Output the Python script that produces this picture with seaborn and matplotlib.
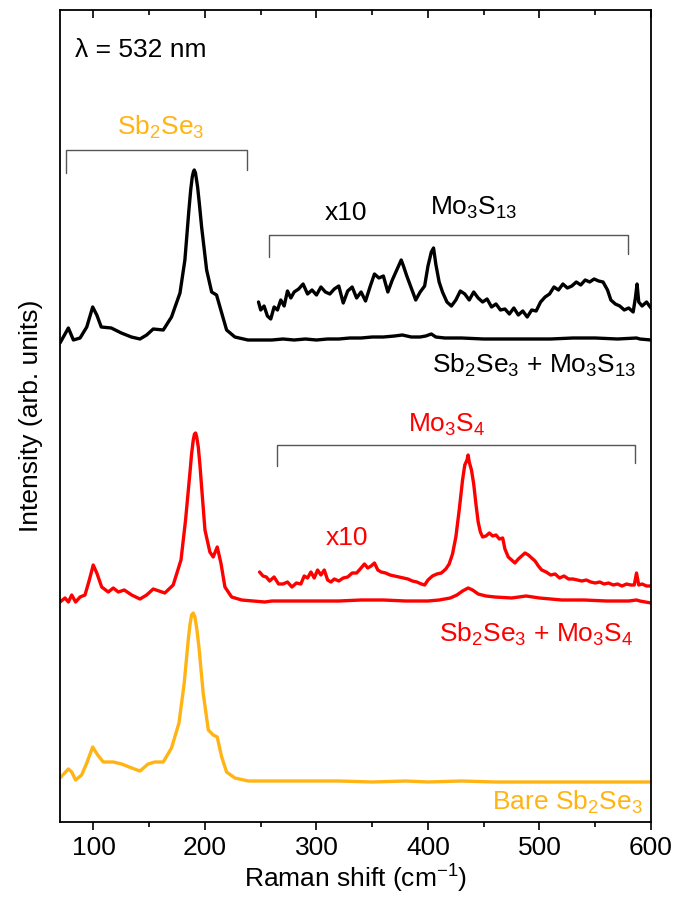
import numpy as np
import pandas as pd
import matplotlib
matplotlib.use("Agg")
import matplotlib.pyplot as plt
import seaborn as sns
from matplotlib.ticker import MultipleLocator

# ---------------- data ----------------
# Raman shift (cm^-1) and intensity (arb. units, offset already applied)
bare_x = [70, 77.5, 80.5, 84, 89.4, 94, 99.3, 103.8, 108.8, 117.8, 125.3, 134.3, 141.7, 149, 155,
          162.6, 170, 176.7, 181.4, 185, 186.5, 188, 189.5, 191, 192.7, 194.6, 198.4, 203, 207.4,
          211, 215, 219.4, 226.8, 238.8, 253.7, 260, 280, 300, 320, 350, 380, 400, 430, 460, 500,
          530, 560, 590, 600]
bare_y = [44, 53, 50, 42, 47, 59, 75, 67, 60, 60, 58, 54, 51, 58, 60,
          60, 74, 99, 139, 182, 197, 207, 209, 205, 193, 175, 129, 92, 87,
          85, 65, 50, 44, 41, 41, 41, 41, 41, 41, 40, 41, 40, 41, 40, 40,
          40, 40, 40, 40]

mo3s4_x = [70, 74.5, 77.5, 80.5, 84, 88, 92.4, 96.3, 99.8, 103, 107.4, 113.3, 117.8, 122.3, 127.6,
           134.3, 141.7, 147.7, 153.6, 164, 171.5, 178.5, 182.6, 186.5, 188, 189.5, 190.6, 191.6,
           192.6, 194, 195.5, 197, 200, 204.4, 207.4, 211, 214.3, 217.9, 223.9, 232.9, 253.7, 260,
           280, 300, 320, 340, 360, 380, 400, 410, 420, 426, 431, 436, 440, 445, 452, 460, 475,
           488, 500, 520, 540, 560, 580, 587, 590, 600]
mo3s4_y = [220, 224, 220, 227, 220, 225, 227, 242, 257, 249, 235, 230, 234, 230, 232,
           227, 223, 227, 233, 229, 237, 262, 302, 349, 368, 382, 388, 389,
           385, 375, 357, 335, 292, 270, 265, 275, 259, 235, 225, 222, 220, 221,
           221, 221, 221, 222, 222, 221, 221, 222, 224, 227, 231, 234, 232, 228, 226, 225, 224,
           226, 224, 222, 222, 221, 221, 222, 221, 219]

mo3s4_x10_x = [249, 252, 255, 258, 262, 266, 270, 274, 278, 282, 286, 289, 292, 295, 298, 301,
               304, 307, 310, 313, 316, 320, 324, 328, 332, 336, 340, 343, 346, 349, 352, 355,
               358, 362, 366, 370, 374, 378, 382, 386, 390, 394, 397, 400, 404, 408, 412, 416,
               419, 422, 425, 428, 431, 433, 435, 436, 437, 439, 441, 443, 445, 447, 449, 452,
               455, 458, 461, 464, 467, 469, 472, 475, 478, 481, 484, 487, 490, 493, 496, 499,
               502, 506, 510, 514, 518, 522, 526, 530, 534, 538, 542, 546, 550, 554, 558, 562,
               566, 570, 574, 578, 582, 585, 587, 589, 592, 596, 600]
mo3s4_x10_y = [250, 246, 245, 241, 245, 238, 238, 240, 235, 239, 238, 246, 244, 250, 244, 252,
               247, 252, 242, 240, 243, 241, 244, 245, 249, 249, 254, 258, 254, 256, 259, 252,
               250, 249, 247, 246, 245, 244, 243, 241, 240, 238, 237, 242, 246, 248, 249, 253,
               258, 268, 285, 312, 342, 357, 362, 367, 360, 352, 338, 318, 300, 290, 285, 286,
               289, 286, 287, 283, 284, 273, 265, 262, 259, 263, 266, 269, 267, 264, 261, 256,
               252, 250, 247, 248, 244, 246, 243, 243, 242, 241, 242, 240, 239, 240, 238, 239,
               237, 238, 236, 238, 237, 237, 249, 237, 238, 236, 236]

mo3s13_x = [70, 77.5, 82, 88, 94, 99.3, 103, 107, 116, 125, 134, 141.7, 147.7, 153.6, 162.6, 170,
            177.6, 182, 185.6, 187.2, 188.6, 189.6, 190.4, 191.5, 193.4, 195, 197, 201.5, 206,
            210.4, 215, 219.4, 226.8, 238.5, 253.7, 260, 270, 280, 290, 300, 310, 320, 330, 340,
            350, 360, 370, 377, 385, 393, 398, 403, 407, 415, 430, 450, 470, 490, 510, 530, 550,
            570, 587, 590, 600]
mo3s13_y = [479, 494, 482, 484, 495, 515, 507, 495, 494, 489, 485, 483, 487, 493, 492, 505,
            529, 562, 612, 632, 645, 650, 652, 649, 635, 618, 595, 552, 530,
            527, 509, 492, 485, 482, 482, 482, 483, 482, 483, 482, 483, 483, 484, 484,
            485, 485, 486, 487, 485, 485, 486, 488, 485, 484, 484, 483, 483, 483, 483, 484, 484,
            483, 484, 483, 482]

mo3s13_x10_x = [248, 250, 253, 256, 259, 262, 265, 268, 271, 274, 277, 280, 284, 288, 292, 296,
                300, 304, 308, 312, 316, 320, 324, 328, 332, 336, 340, 344, 348, 352, 356, 360,
                364, 368, 372, 376, 378, 381, 385, 389, 393, 397, 400, 403, 405, 407, 410, 413,
                417, 421, 425, 429, 433, 437, 441, 445, 449, 453, 457, 461, 465, 469, 473, 477,
                481, 485, 489, 493, 497, 501, 505, 509, 513, 517, 521, 525, 529, 533, 537, 541,
                545, 549, 553, 557, 561, 564, 568, 572, 576, 580, 584, 586, 587.5, 589, 592, 596,
                600]
mo3s13_x10_y = [520, 512, 516, 506, 503, 515, 512, 522, 516, 531, 524, 530, 533, 538, 528, 532,
                527, 535, 530, 528, 533, 536, 519, 531, 535, 524, 530, 521, 535, 548, 544, 546,
                530, 542, 552, 562, 556, 546, 534, 522, 530, 536, 556, 570, 574, 558, 540, 530,
                520, 516, 522, 531, 528, 522, 530, 524, 520, 523, 515, 518, 512, 513, 508, 514,
                507, 511, 505, 512, 511, 520, 525, 528, 535, 532, 538, 534, 536, 540, 537, 542,
                540, 543, 541, 540, 532, 522, 518, 516, 512, 514, 510, 524, 538, 520, 516, 520,
                514]

x_ticks = [100, 200, 300, 400, 500, 600]

# bracket spans (x-range)
sb_bracket = (75.4, 237.6)
mo3s13_bracket = (257.6, 579.4)
mo3s4_bracket = (264.8, 586.0)

ORANGE = "#FFB414"
RED = "#FF0000"
BLACK = "#000000"
GREY = "#555555"

# ---------------- style ----------------
sns.set_style("ticks")
plt.rcParams["font.family"] = ["Liberation Sans", "DejaVu Sans"]
plt.rcParams["mathtext.fontset"] = "custom"
plt.rcParams["mathtext.rm"] = "Liberation Sans"
plt.rcParams["mathtext.it"] = "Liberation Sans:italic"
plt.rcParams["mathtext.default"] = "regular"
plt.rcParams["text.color"] = "black"
plt.rcParams["axes.labelcolor"] = "black"
plt.rcParams["xtick.color"] = "black"
plt.rcParams["ytick.color"] = "black"

fig = plt.figure(figsize=(6.78, 9.05), dpi=100)
ax = fig.add_axes([60 / 678, 83 / 905, 591 / 678, 812 / 905])

def draw(xs, ys, color):
    df = pd.DataFrame({"x": xs, "y": ys})
    sns.lineplot(data=df, x="x", y="y", ax=ax, color=color, lw=2.4,
                 estimator=None, sort=False)

draw(bare_x, bare_y, ORANGE)
draw(mo3s4_x, mo3s4_y, RED)
draw(mo3s4_x10_x, mo3s4_x10_y, RED)
draw(mo3s13_x, mo3s13_y, BLACK)
draw(mo3s13_x10_x, mo3s13_x10_y, BLACK)

# brackets
def bracket(x0, x1, ytop, yl, yr):
    ax.plot([x0, x0, x1, x1], [yl, ytop, ytop, yr], color=GREY, lw=1.0)

bracket(sb_bracket[0], sb_bracket[1], 672, 649, 652)
bracket(mo3s13_bracket[0], mo3s13_bracket[1], 587, 565, 568)
bracket(mo3s4_bracket[0], mo3s4_bracket[1], 377, 356, 359)

fs = 19
ax.text(83.4, 772, "λ = 532 nm", fontsize=fs, color=BLACK, ha="left", va="center")
ax.text(160.6, 687, "Sb$_2$Se$_3$", fontsize=fs, color=ORANGE, ha="center", va="baseline")
ax.text(326.8, 602, "x10", fontsize=fs, color=BLACK, ha="center", va="baseline")
ax.text(401.6, 607, "Mo$_3$S$_{13}$", fontsize=fs, color=BLACK, ha="left", va="baseline")
ax.text(587.4, 449, "Sb$_2$Se$_3$ + Mo$_3$S$_{13}$", fontsize=fs, color=BLACK, ha="right", va="baseline")
ax.text(382.2, 390, "Mo$_3$S$_4$", fontsize=fs, color=RED, ha="left", va="baseline")
ax.text(327.7, 277, "x10", fontsize=fs, color=RED, ha="center", va="baseline")
ax.text(583.9, 180, "Sb$_2$Se$_3$ + Mo$_3$S$_4$", fontsize=fs, color=RED, ha="right", va="baseline")
ax.text(592.5, 12, "Bare Sb$_2$Se$_3$", fontsize=fs, color=ORANGE, ha="right", va="baseline")

ax.set_xlim(70, 600)
ax.set_ylim(0, 812)
ax.set_xticks(x_ticks)
ax.xaxis.set_minor_locator(MultipleLocator(50))
ax.set_yticks([])
ax.tick_params(axis="x", which="major", direction="out", length=6, width=1.2,
               labelsize=fs, pad=4, top=False, bottom=True, colors="black")
ax.tick_params(axis="x", which="minor", direction="out", length=3.5, width=1.2,
               top=False, bottom=True)

# top inward ticks via secondary axis
sec = ax.secondary_xaxis("top")
sec.set_xticks(x_ticks)
sec.xaxis.set_minor_locator(MultipleLocator(50))
sec.tick_params(axis="x", which="major", direction="in", length=6, width=1.2, labeltop=False)
sec.tick_params(axis="x", which="minor", direction="in", length=3.5, width=1.2)
sec.spines["top"].set_visible(False)

for s in ax.spines.values():
    s.set_linewidth(1.3)
    s.set_color("black")
    s.set_visible(True)

ax.set_xlabel("Raman shift (cm$^{-1}$)", fontsize=fs, labelpad=2)
ax.set_ylabel("Intensity (arb. units)", fontsize=fs, labelpad=12)

fig.savefig("out.png", dpi=100)
